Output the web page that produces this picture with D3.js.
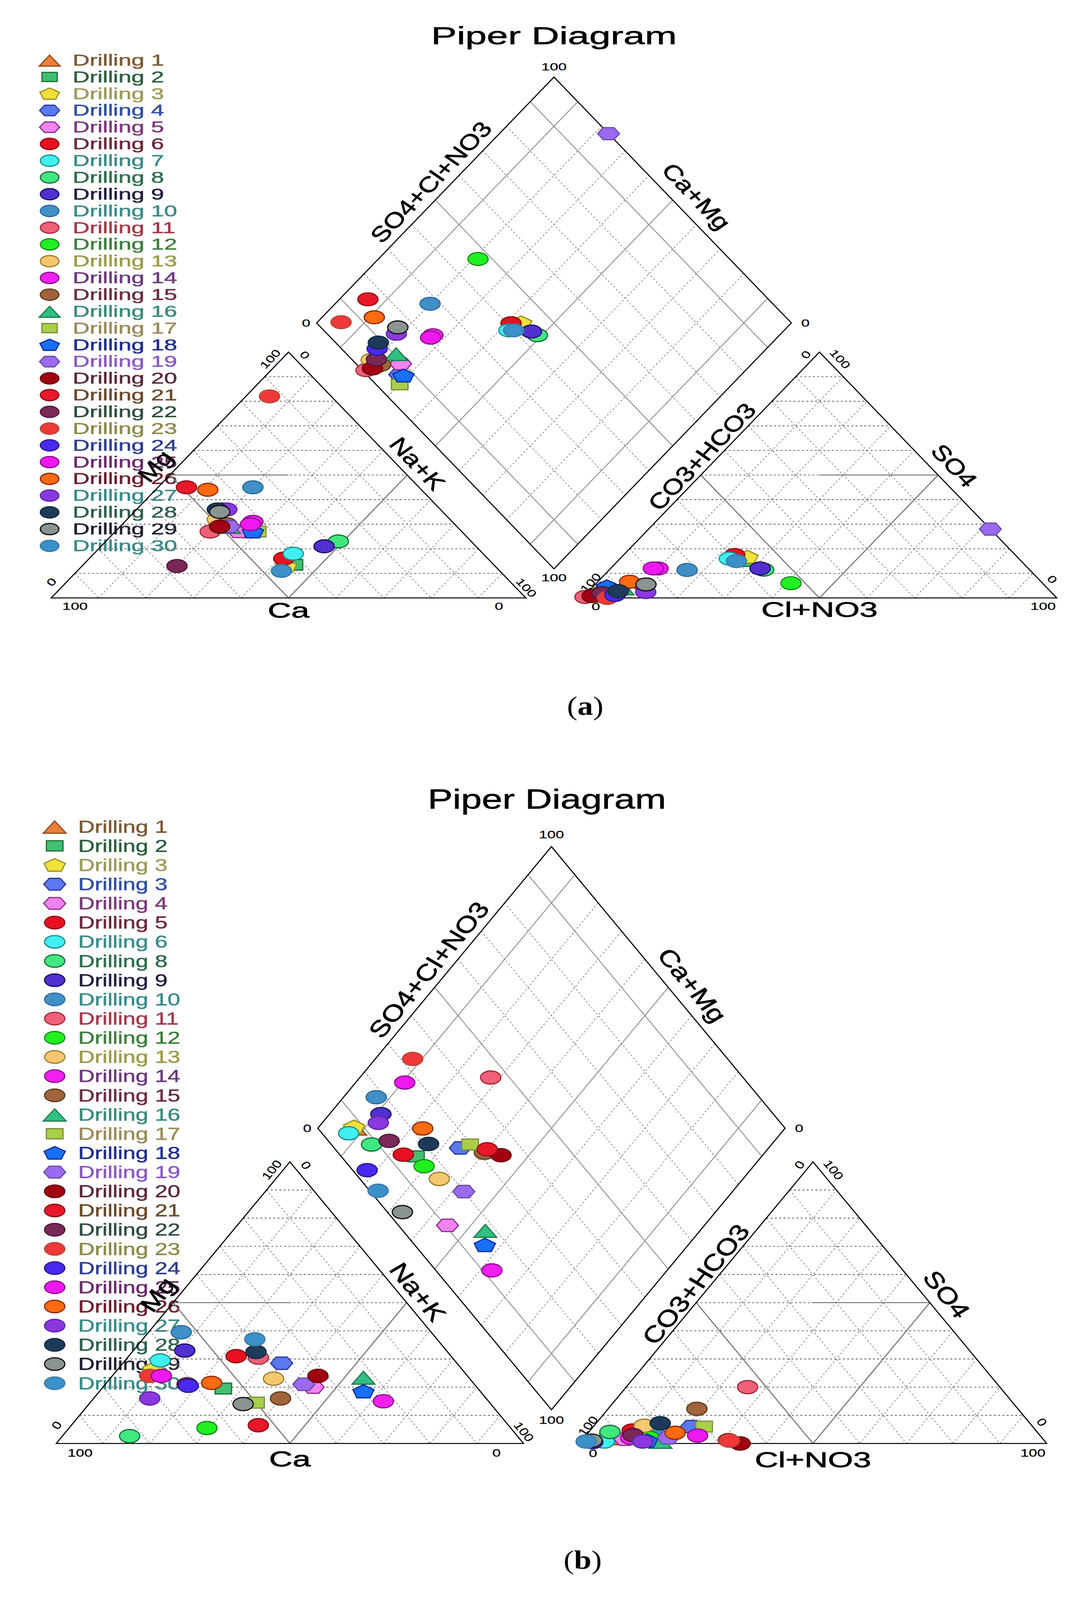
<!DOCTYPE html>
<html>
<head>
<meta charset="utf-8">
<title>Piper Diagram</title>
<script src="https://cdn.jsdelivr.net/npm/d3@7"></script>
<style>
html, body { margin: 0; background: #fff; overflow: hidden; }
</style>
</head>
<body>
<div id="chart"></div>
<script>
// legend names as printed ((b) repeats "Drilling 3" and skips 7)
var namesA = ["Drilling 1","Drilling 2","Drilling 3","Drilling 4","Drilling 5","Drilling 6","Drilling 7","Drilling 8","Drilling 9","Drilling 10",
  "Drilling 11","Drilling 12","Drilling 13","Drilling 14","Drilling 15","Drilling 16","Drilling 17","Drilling 18","Drilling 19","Drilling 20",
  "Drilling 21","Drilling 22","Drilling 23","Drilling 24","Drilling 25","Drilling 26","Drilling 27","Drilling 28","Drilling 29","Drilling 30"];
var namesB = ["Drilling 1","Drilling 2","Drilling 3","Drilling 3","Drilling 4","Drilling 5","Drilling 6","Drilling 8","Drilling 9","Drilling 10",
  "Drilling 11","Drilling 12","Drilling 13","Drilling 14","Drilling 15","Drilling 16","Drilling 17","Drilling 18","Drilling 19","Drilling 20",
  "Drilling 21","Drilling 22","Drilling 23","Drilling 24","Drilling 25","Drilling 26","Drilling 27","Drilling 28","Drilling 29","Drilling 30"];

var shapes = ["triangle","square","pentagon","hexagon","hexagon","circle","circle","circle","circle","circle",
  "circle","circle","circle","circle","circle","triangle","square","pentagon","hexagon","circle",
  "circle","circle","circle","circle","circle","circle","circle","circle","circle","circle"];
var fills = ["#e8803a","#40c070","#f2e13c","#5a78f0","#f284f2","#e81020","#40f0f0","#40e880","#5030d0","#4090c8",
  "#f06078","#20f020","#f5c870","#f020f0","#a0643a","#30c080","#a8d048","#1870f8","#9a6af0","#a00010",
  "#e81828","#7a2858","#f03838","#4a28f0","#f018f0","#ff6a10","#8a38e0","#1e3a5a","#8a9490","#3a90c8"];
var strokes = ["#8a4a1a","#1e6e3a","#9a8a1a","#2a3a9a","#8a2a8a","#8a0a10","#1a8a8a","#1a6a3a","#201060","#2a6a9a",
  "#a02a3a","#1a8a1a","#9a7a2a","#8a108a","#5a3a1a","#1a7a4a","#7a8a3a","#0a2a9a","#6a4aa0","#6a0010",
  "#8a1018","#4a1838","#b04a3a","#2a1890","#8a108a","#8a2a0a","#5a28a0","#102a40","#101010","#3a7aa8"];
var textCols = ["#7a5a35","#2e5e3e","#9a9a5a","#2f4fa0","#7a3a7a","#6a2a3a","#3a8a8a","#2e6e4e","#1e1e3e","#3a8a8a",
  "#a03a4a","#3e7e3e","#9a9a4a","#6a3a7a","#6a2e3e","#3a8a7a","#9a8a5a","#1e2e8e","#8a5ac0","#5a2a3a",
  "#6a4a2a","#2e4e3e","#8a8a4a","#2e3e8e","#6a2a6a","#6a1e2e","#3a8a8a","#2e5e4e","#1e1e2e","#3a8a8a"];

// panel (a): cations Ca, Mg, Na+K and anions Cl+NO3, SO4 in % meq (CO3+HCO3 is the rest)
var caA  = [50,42,44,45,47,43,40,28,32,35,53,50,49,42,48,48,43,44,48,50,49,67,13,46,43,45,45,47,47,46];
var mgA  = [30,13.5,13,27,27,16,18,23,21,45,27,29,32,31,30,29,27,27,29,29,45,13,82,36,30,44,36,36,35,11];
var nakA = [20,44.5,43,28,26,41,42,49,47,20,20,21,19,27,22,23,30,29,23,21,6,20,5,18,27,11,19,17,18,43];
var clA  = [2,27,26.5,3,6.4,23.4,23,32.5,31.5,16.4,0.4,41,3,10,3,6.5,3,2.9,72,1.7,10.6,3.2,5.3,6.3,9,6.7,12.2,6.2,10.7,25];
var so4A = [1,15,16.7,4,3,17.5,16,11.5,12,11.4,0.4,6,1,12,2,4,2,4.7,28,0.8,5,2,0,1.2,12,6.6,2.4,2.8,5.5,15];

// panel (b)
var caB  = [66,54.5,66,37.5,35,46,63,83,56,53.5,41.5,65,42,22.5,44,22.5,50,25,36.5,32,53.5,61.5,68,61.5,65.5,56,72,41,53,39];
var mgB  = [26,19.5,26.5,28.5,20,31,29.5,2.6,33,39.5,30.5,5.5,23,15,16,23.5,14.5,18.5,21,24,6.5,21,24,20.5,24,21.5,16,32.5,14,37];
var nakB = [8,26,7.5,34,45,23,7.5,14.4,11,7,28,29.5,35,62.5,40,54,35.5,56.5,42.5,44,40,17.5,8,18,10.5,22.5,12,26.5,33,24];
var clB  = [6,12,5,21,9,9,5,4.5,13,14,26,14,10.7,10,19,17,23.7,14,18,34.4,31.3,10,31.6,2.6,23.9,18.6,13.2,13.7,2.2,1.1];
var so4B = [2,4,3,6,1.5,4.6,0.7,4.1,3,4,20,2,6.3,2,12.3,0.7,6,1,2,0,1.2,3,1,0.5,2.8,3.8,0.7,7.2,1,0.7];

var gridPct = [10,20,30,40,50,60,70,80,90];
var solidPct = [10,50,90];
var tickText = ["0","100"];

// drawn in a 2790 x 4835 frame, fitted to whatever viewport the page gets
var width = 2790, height = 4835;
var vw = window.innerWidth || width, vh = window.innerHeight || height;
var svg = d3.select("#chart").append("svg")
  .attr("width", vw).attr("height", vh)
  .attr("viewBox", "0 0 " + width + " " + height)
  .attr("preserveAspectRatio", "none")
  .style("display", "block");
svg.append("rect").attr("width", width).attr("height", height).attr("fill", "#fff");
var sans = "'Liberation Sans', Arial, sans-serif";

// the figure is a horizontally stretched raster, so text gets an x-scale too
var layouts = [
  {x0:131, base:1807, w:1215, h:743, gap:144, titleX:1418, titleY:133, titleSize:74, titleSx:1.33,
   legX:127, legTx:186, legY:182, legDy:50.6, legSize:47, legSx:1.28, legR:17, legRsx:1.4,
   r:19.5, rsx:1.33, axSize:63, axSx:1.16, hSize:64, hSx:1.3, caOff:37, clOff:34, tkSize:30, tkSx:1.3, tkK:1,
   cap:"a", capY:2160},
  {x0:144, base:4362, w:1196, h:851, gap:143, titleX:1400, titleY:2444, titleSize:83, titleSx:1.15,
   legX:140, legTx:200, legY:2498, legDy:58.0, legSize:53, legSx:1.11, legR:19, legRsx:1.37,
   r:20, rsx:1.3, axSize:66, axSx:1.19, hSize:66, hSx:1.26, caOff:47, clOff:49, tkSize:32, tkSx:1.2, tkK:1.15,
   cap:"b", capY:4740}
];

function polygon(n, rot, k, dy) {
  return {draw: function(c, s) {
    var r = Math.sqrt(s) * k;
    for (var i = 0; i < n; i++) {
      var a = rot + i * 2 * Math.PI / n;
      var px = r * Math.cos(a), py = r * Math.sin(a) + dy * r;
      if (i) c.lineTo(px, py); else c.moveTo(px, py);
    }
    c.closePath();
  }};
}
var shapeTypes = {
  circle: {draw: function(c, s) { var r = Math.sqrt(s); c.moveTo(r, 0); c.arc(0, 0, r, 0, 2 * Math.PI); }},
  triangle: polygon(3, -Math.PI / 2, 1.3, 0.3),
  square: {draw: function(c, s) { var r = Math.sqrt(s) * 0.82; c.rect(-r, -r, 2 * r, 2 * r); }},
  pentagon: polygon(5, -Math.PI / 2, 1.1, 0.08),
  hexagon: polygon(6, 0, 1.08, 0)
};

function marker(g, i, px, py, r, sx) {
  g.append("path")
    .attr("d", d3.symbol().type(shapeTypes[shapes[i]]).size(r * r)())
    .attr("transform", "translate(" + px + "," + py + ") scale(" + sx + ",1)")
    .attr("fill", fills[i])
    .attr("stroke", strokes[i])
    .attr("stroke-width", 3)
    .attr("vector-effect", "non-scaling-stroke");
}

function label(g, txt, x, y, o) {
  var col = o.color || "#000";
  return g.append("text")
    .attr("transform", "translate(" + x + "," + y + ") rotate(" + (o.rot || 0) + ") scale(" + (o.sx || 1) + ",1)")
    .attr("text-anchor", o.anchor || "middle")
    .attr("dominant-baseline", o.base || "central")
    .style("font-family", o.family || sans)
    .style("font-size", o.size + "px")
    .attr("fill", col)
    .attr("stroke", col)
    .attr("stroke-width", o.bold || 0.8)
    .text(txt);
}

function drawPanel(L, names, ca, mg, nak, cl, so4) {
  var root = svg.append("g");
  var x = d3.scaleLinear().domain([0, 100]).range([L.x0, L.x0 + L.w]);
  var y = d3.scaleLinear().domain([0, 100]).range([L.base, L.base - L.h]);
  var g = L.gap / L.w * 100;
  var ang = Math.atan2(L.h, L.w / 2) * 180 / Math.PI;
  // (a = right corner %, b = apex %) -> plot units
  var catUV = function(a, b) { return [a + b / 2, b]; };
  var anUV = function(a, b) { return [100 + g + a + b / 2, b]; };
  var diaUV = function(n, s) { return [50 + g / 2 + (s + n) / 2, 100 + g + s - n]; };
  var line = d3.line().x(function(d) { return x(d[0]); }).y(function(d) { return y(d[1]); });
  var P = function(uv) { return [x(uv[0]), y(uv[1])]; };

  // legend (drawn first, the diagram lies over it)
  var leg = root.append("g");
  names.forEach(function(nm, i) {
    var yy = L.legY + i * L.legDy;
    marker(leg, i, L.legX, yy, L.legR, L.legRsx);
    label(leg, nm, L.legTx, yy, {anchor: "start", size: L.legSize, sx: L.legSx, color: textCols[i]});
  });

  label(root, "Piper Diagram", L.titleX, L.titleY, {size: L.titleSize, sx: L.titleSx, base: "alphabetic", bold: 1});

  var grid = root.append("g").attr("fill", "none");
  function dotted(pts, col) {
    grid.append("path").attr("d", line(pts)).attr("stroke", col)
      .attr("stroke-width", 2.2).attr("stroke-dasharray", "5,6");
  }
  function solid(pts, col, w) {
    grid.append("path").attr("d", line(pts)).attr("stroke", col).attr("stroke-width", w);
  }

  [catUV, anUV].forEach(function(f) {
    gridPct.forEach(function(k) {
      dotted([f(0, 100 - k), f(100 - k, 0)], "#8a8a8a");
      dotted([f(k, 0), f(k, 100 - k)], "#8a8a8a");
      dotted([f(0, k), f(100 - k, k)], "#555");
    });
    solid([f(50, 0), f(0, 50)], "#777", 3);
    solid([f(50, 0), f(50, 50)], "#777", 3);
  });
  solid([catUV(0, 50), catUV(25, 50)], "#777", 3);
  solid([anUV(25, 50), anUV(50, 50)], "#777", 3);

  gridPct.forEach(function(k) {
    if (solidPct.indexOf(k) >= 0) {
      solid([diaUV(0, k), diaUV(100, k)], "#8c8c8c", 2.4);
      solid([diaUV(k, 0), diaUV(k, 100)], "#8c8c8c", 2.4);
    } else {
      dotted([diaUV(0, k), diaUV(100, k)], "#8a8a8a");
      dotted([diaUV(k, 0), diaUV(k, 100)], "#8a8a8a");
    }
  });

  var frame = root.append("g").attr("fill", "none").attr("stroke", "#000").attr("stroke-width", 3);
  [[catUV(0, 0), catUV(100, 0), catUV(0, 100)],
   [anUV(0, 0), anUV(100, 0), anUV(0, 100)],
   [diaUV(0, 0), diaUV(0, 100), diaUV(100, 100), diaUV(100, 0)]].forEach(function(pts) {
    frame.append("path").attr("d", line(pts) + "Z").attr("stroke-linejoin", "miter");
  });

  // axis names placed along the edges
  function edgeLabel(p1, p2, txt, nOff, aOff) {
    var a = P(p1), b = P(p2);
    var dx = b[0] - a[0], dy = b[1] - a[1], len = Math.sqrt(dx * dx + dy * dy);
    var ux = dx / len, uy = dy / len;
    var mx = (a[0] + b[0]) / 2 + uy * nOff + ux * aOff;
    var my = (a[1] + b[1]) / 2 - ux * nOff + uy * aOff;
    label(root, txt, mx, my, {size: L.axSize, sx: L.axSx, rot: Math.atan2(dy, dx) * 180 / Math.PI, bold: 1.2});
  }
  edgeLabel(diaUV(0, 0), diaUV(0, 100), "SO4+Cl+NO3", 43, 35);
  edgeLabel(diaUV(0, 100), diaUV(100, 100), "Ca+Mg", 54, 30);
  edgeLabel(catUV(0, 0), catUV(0, 100), "Mg", 46, -3);
  edgeLabel(catUV(0, 100), catUV(100, 0), "Na+K", 42, -10);
  edgeLabel(anUV(0, 0), anUV(0, 100), "CO3+HCO3", 33, 45);
  edgeLabel(anUV(0, 100), anUV(100, 0), "SO4", 50, 4);
  label(root, "Ca", x(50), L.base + L.caOff, {size: L.hSize, sx: L.hSx, bold: 1.2});
  label(root, "Cl+NO3", x(150 + g), L.base + L.clOff, {size: L.hSize, sx: L.hSx, bold: 1.2});

  // corner values
  var k = L.tkK;
  var A = P(catUV(0, 0)), B = P(catUV(100, 0)), C = P(catUV(0, 100));
  var A2 = P(anUV(0, 0)), B2 = P(anUV(100, 0)), C2 = P(anUV(0, 100));
  var DL = P(diaUV(0, 0)), DT = P(diaUV(0, 100)), DR = P(diaUV(100, 100)), DB = P(diaUV(100, 0));
  [[1, A, 61, 25, 0], [0, B, -69, 25, 0], [0, A, 1, -48, -ang], [1, B, 1, -31, ang], [1, C, -46.5, 21, -ang], [0, C, 41.5, 9, ang],
   [1, A2, 22, -46, -ang], [0, A2, 35, 26, 0], [0, B2, -12, -56, ang], [1, B2, -35, 25, 0], [0, C2, -34.5, 8, -ang], [1, C2, 52.5, 21, ang],
   [1, DT, 0, -31, 0], [0, DL, -27, 0, 0], [0, DR, 36, 0, 0], [1, DB, 0, 27, 0]].forEach(function(t) {
    label(root, tickText[t[0]], t[1][0] + t[2], t[1][1] + t[3] * k, {size: L.tkSize, sx: L.tkSx, rot: t[4], bold: 0.4});
  });

  // samples: cation triangle, anion triangle, then the diamond
  var pts = root.append("g");
  ca.forEach(function(v, i) { var p = P(catUV(nak[i], mg[i])); marker(pts, i, p[0], p[1], L.r, L.rsx); });
  ca.forEach(function(v, i) { var p = P(anUV(cl[i], so4[i])); marker(pts, i, p[0], p[1], L.r, L.rsx); });
  ca.forEach(function(v, i) { var p = P(diaUV(nak[i], cl[i] + so4[i])); marker(pts, i, p[0], p[1], L.r, L.rsx); });

  var cap = root.append("text")
    .attr("x", x(50 + g / 2 + 50) + 80).attr("y", L.capY)
    .attr("text-anchor", "middle")
    .style("font-family", "'Liberation Serif', 'Times New Roman', serif")
    .style("font-size", "80px");
  cap.append("tspan").text("(");
  cap.append("tspan").style("font-weight", "bold").text(L.cap);
  cap.append("tspan").text(")");
}

drawPanel(layouts[0], namesA, caA, mgA, nakA, clA, so4A);
drawPanel(layouts[1], namesB, caB, mgB, nakB, clB, so4B);
</script>
</body>
</html>
